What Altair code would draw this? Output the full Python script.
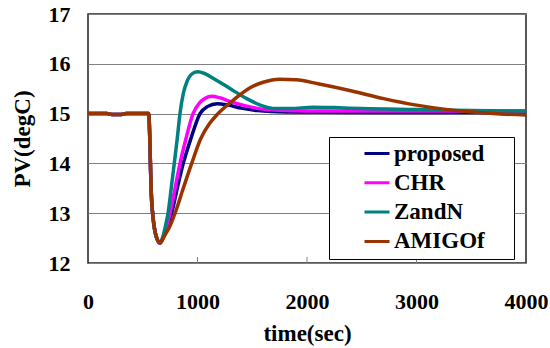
import altair as alt
import pandas as pd

series_names = ["proposed", "CHR", "ZandN", "AMIGOf"]
series_colors = ["#000080", "#FF00FF", "#008080", "#993300"]

# shared start (before the controllers differ)
common_t = [0, 100, 170, 230, 290, 350, 450, 555, 563, 570, 578, 588, 600, 615, 635]
common_v = [15.0, 15.0, 15.0, 14.98, 14.98, 15.0, 15.0, 15.0, 14.6, 14.0, 13.4, 13.05, 12.8, 12.6, 12.46]

proposed_t = [657, 695, 730, 764, 815, 870, 940, 1023, 1090, 1180, 1280, 1400, 1550, 1800, 2500, 4000]
proposed_v = [12.4, 12.55, 12.75, 13.0, 13.5, 14.0, 14.5, 15.0, 15.14, 15.2, 15.17, 15.11, 15.06, 15.03, 15.02, 15.02]

chr_t = [657, 690, 720, 749, 795, 840, 895, 959, 1020, 1070, 1129, 1200, 1300, 1450, 1632, 1800, 2200, 3000, 4000]
chr_v = [12.4, 12.55, 12.75, 13.0, 13.5, 14.0, 14.5, 15.0, 15.22, 15.31, 15.35, 15.32, 15.24, 15.15, 15.08, 15.06, 15.05, 15.05, 15.05]

zandn_t = [657, 680, 705, 731, 760, 788, 815, 840, 870, 905, 945, 1000, 1060, 1150, 1300, 1450, 1600, 1700, 1850, 2050, 2250, 2500, 3000, 3500, 4000]
zandn_v = [12.4, 12.5, 12.72, 13.0, 13.5, 14.0, 14.5, 15.0, 15.4, 15.65, 15.79, 15.84, 15.81, 15.7, 15.5, 15.3, 15.15, 15.1, 15.1, 15.13, 15.12, 15.1, 15.08, 15.06, 15.05]

amigo_t = [657, 700, 750, 795, 870, 947, 1030, 1110, 1187, 1327, 1480, 1600, 1750, 1900, 2100, 2400, 2700, 3000, 3250, 3460, 3700, 4000]
amigo_v = [12.4, 12.55, 12.75, 13.0, 13.5, 14.0, 14.5, 14.8, 15.0, 15.27, 15.52, 15.63, 15.69, 15.68, 15.6, 15.46, 15.3, 15.17, 15.09, 15.04, 15.0, 14.97]

x_tick_values = [0, 1000, 2000, 3000, 4000]
inner_ticks = [1000, 2000, 3000]
y_tick_values = [12, 13, 14, 15, 16, 17]

rows = []
for name, ts, vs in [("proposed", proposed_t, proposed_v), ("CHR", chr_t, chr_v),
                     ("ZandN", zandn_t, zandn_v), ("AMIGOf", amigo_t, amigo_v)]:
    for t, v in zip(common_t + ts, common_v + vs):
        rows.append({"series": name, "time": t, "pv": v})
df = pd.DataFrame(rows)
ticks_df = pd.DataFrame({"time": inner_ticks})

FONT = "Liberation Serif"

x_enc = alt.X("time:Q", scale=alt.Scale(domain=[0, 4000], nice=False),
              axis=alt.Axis(values=x_tick_values, format="d", title="time(sec)", grid=False,
                            ticks=False, domain=False, labelPadding=28, titlePadding=10,
                            labelFlush=False))
y_enc = alt.Y("pv:Q", scale=alt.Scale(domain=[12, 17], nice=False, zero=False),
              axis=alt.Axis(values=y_tick_values, format="d", title="PV(degC)", grid=True,
                            ticks=False, domain=False, labelPadding=18, titlePadding=14))

lines = alt.Chart(df).mark_line(strokeWidth=3.5, interpolate="monotone").encode(
    x=x_enc,
    y=y_enc,
    color=alt.Color("series:N", sort=series_names,
                    scale=alt.Scale(domain=series_names, range=series_colors),
                    legend=alt.Legend(title="\u00a0", titleOrient="right",
                                      titleFontSize=8, titlePadding=24,
                                      orient="none", legendX=241, legendY=123,
                                      fillColor="white", strokeColor="black", padding=5,
                                      symbolType="stroke", symbolSize=625, symbolStrokeWidth=3,
                                      clipHeight=23, rowPadding=5.3, symbolOffset=29,
                                      labelOffset=3, labelFont=FONT, labelFontSize=23,
                                      labelFontWeight="bold", labelColor="black",
                                      labelLimit=300)),
)

tick_marks = alt.Chart(ticks_df).mark_rule(color="#808080", strokeWidth=1).encode(
    x=alt.X("time:Q"),
    y=alt.value(243),
    y2=alt.value(249),
)

chart = alt.layer(lines, tick_marks).properties(
    width=438, height=249,
    background="white",
    autosize=alt.AutoSizeParams(type="none"),
    padding={"left": 88, "top": 14, "right": 24, "bottom": 85},
).configure_view(
    stroke="#222222", strokeWidth=1.5
).configure_axis(
    gridColor="#808080", gridWidth=1, gridOpacity=1,
    labelFont=FONT, labelFontSize=22, labelFontWeight="bold", labelColor="black",
    titleFont=FONT, titleFontSize=23, titleFontWeight="bold", titleColor="black",
).configure_legend(
    labelFont=FONT, labelFontSize=23, labelFontWeight="bold", labelColor="black",
    titleFont=FONT,
)

chart.save("out.html", embed_options={"renderer": "svg", "actions": False})
